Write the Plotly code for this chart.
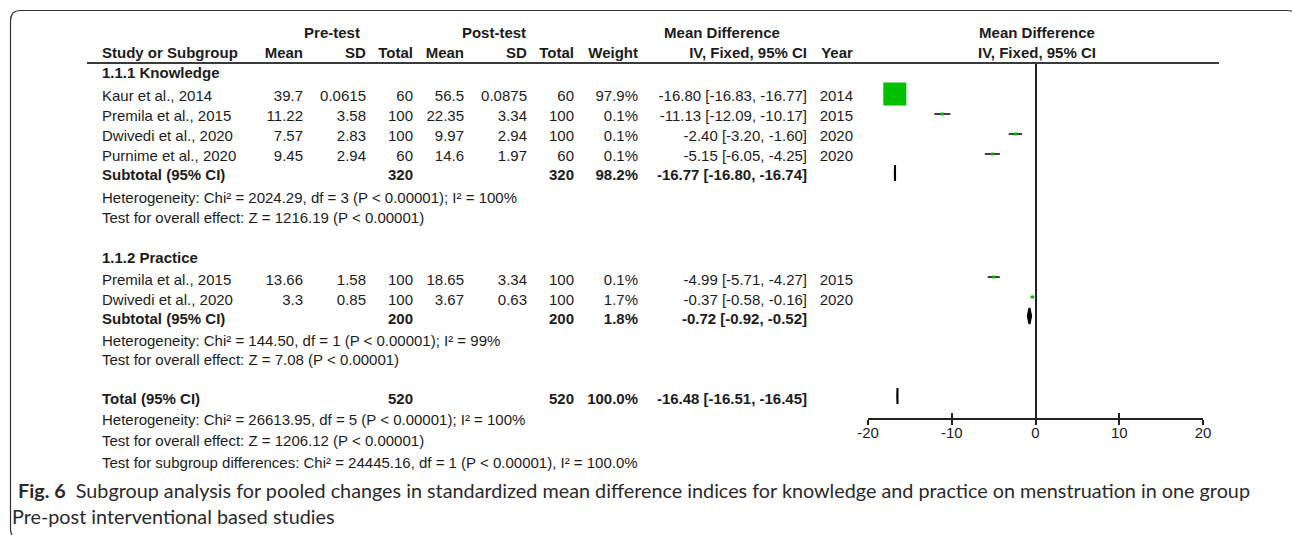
import plotly.graph_objects as go

W, H = 1292, 535

# ---------------- data ----------------
# 1.1.1 Knowledge
know_study = ["Kaur et al., 2014", "Premila et al., 2015", "Dwivedi et al., 2020", "Purnime et al., 2020"]
know_pre_mean = [39.7, 11.22, 7.57, 9.45]
know_pre_sd = [0.0615, 3.58, 2.83, 2.94]
know_pre_n = [60, 100, 100, 60]
know_post_mean = [56.5, 22.35, 9.97, 14.6]
know_post_sd = [0.0875, 3.34, 2.94, 1.97]
know_post_n = [60, 100, 100, 60]
know_weight = [97.9, 0.1, 0.1, 0.1]
know_md = [-16.80, -11.13, -2.40, -5.15]
know_lo = [-16.83, -12.09, -3.20, -6.05]
know_hi = [-16.77, -10.17, -1.60, -4.25]
know_year = [2014, 2015, 2020, 2020]
know_sub = dict(n_pre=320, n_post=320, weight=98.2, md=-16.77, lo=-16.80, hi=-16.74)
know_het = "Heterogeneity: Chi² = 2024.29, df = 3 (P < 0.00001); I² = 100%"
know_eff = "Test for overall effect: Z = 1216.19 (P < 0.00001)"

# 1.1.2 Practice
prac_study = ["Premila et al., 2015", "Dwivedi et al., 2020"]
prac_pre_mean = [13.66, 3.3]
prac_pre_sd = [1.58, 0.85]
prac_pre_n = [100, 100]
prac_post_mean = [18.65, 3.67]
prac_post_sd = [3.34, 0.63]
prac_post_n = [100, 100]
prac_weight = [0.1, 1.7]
prac_md = [-4.99, -0.37]
prac_lo = [-5.71, -0.58]
prac_hi = [-4.27, -0.16]
prac_year = [2015, 2020]
prac_sub = dict(n_pre=200, n_post=200, weight=1.8, md=-0.72, lo=-0.92, hi=-0.52)
prac_het = "Heterogeneity: Chi² = 144.50, df = 1 (P < 0.00001); I² = 99%"
prac_eff = "Test for overall effect: Z = 7.08 (P < 0.00001)"

# Overall
total = dict(n_pre=520, n_post=520, weight=100.0, md=-16.48, lo=-16.51, hi=-16.45)
total_het = "Heterogeneity: Chi² = 26613.95, df = 5 (P < 0.00001); I² = 100%"
total_eff = "Test for overall effect: Z = 1206.12 (P < 0.00001)"
total_sub = "Test for subgroup differences: Chi² = 24445.16, df = 1 (P < 0.00001), I² = 100.0%"

axis_ticks = [-20, -10, 0, 10, 20]

caption_bold = "Fig. 6"
caption_line1 = ("Subgroup analysis for pooled changes in standardized mean difference indices "
                 "for knowledge and practice on menstruation in one group")
caption_line2 = "Pre-post interventional based studies"

# ---------------- layout helpers ----------------
TXT = "#1c1c1c"
FONT = "Liberation Sans, Arial, sans-serif"
FS = 15

# right edges of table columns (px)
COL = dict(pre_mean=303, pre_sd=366, pre_n=413, post_mean=464, post_sd=527,
           post_n=574, weight=638, ci=807, year=853)
STUDY_X = 102

annotations = []


def px(x):
    return x / W


def py(y):
    return 1 - y / H


def text(x, y, s, anchor="right", bold=False, size=FS, color=TXT, family=FONT, box=None):
    if bold:
        s = "<b>" + s + "</b>"
    if box is None:
        box = 700 if anchor == "left" else 260
    annotations.append(dict(x=px(x), y=py(y), xref="paper", yref="paper", text=s,
                            xanchor=anchor, yanchor="middle", align=anchor, width=box,
                            showarrow=False, borderpad=0, borderwidth=0,
                            font=dict(family=family, size=size, color=color)))


def ci_str(md, lo, hi):
    return f"{md:.2f} [{lo:.2f}, {hi:.2f}]"


# headers
text(332, 33, "Pre-test", "center", True)
text(494, 33, "Post-test", "center", True)
text(722, 33, "Mean Difference", "center", True)
text(1037, 33, "Mean Difference", "center", True)
text(STUDY_X, 53, "Study or Subgroup", "left", True, box=300)
for key, lab in [("pre_mean", "Mean"), ("pre_sd", "SD"), ("pre_n", "Total"),
                 ("post_mean", "Mean"), ("post_sd", "SD"), ("post_n", "Total"),
                 ("weight", "Weight"), ("ci", "IV, Fixed, 95% CI"), ("year", "Year")]:
    text(COL[key], 53, lab, "right", True)
text(1037, 53, "IV, Fixed, 95% CI", "center", True)

# marker rows collected for the forest plot
study_rows = []   # (md, lo, hi, weight, y)
diamond_rows = []  # (md, lo, hi, y)


def study_block(names, pm, psd, pn, qm, qsd, qn, wt, md, lo, hi, yr, ys):
    for i, y in enumerate(ys):
        text(STUDY_X, y, names[i], "left", box=300)
        text(COL["pre_mean"], y, str(pm[i]))
        text(COL["pre_sd"], y, str(psd[i]))
        text(COL["pre_n"], y, str(pn[i]))
        text(COL["post_mean"], y, str(qm[i]))
        text(COL["post_sd"], y, str(qsd[i]))
        text(COL["post_n"], y, str(qn[i]))
        text(COL["weight"], y, f"{wt[i]:.1f}%")
        text(COL["ci"], y, ci_str(md[i], lo[i], hi[i]))
        text(COL["year"], y, str(yr[i]))
        study_rows.append((md[i], lo[i], hi[i], wt[i], y - 2))


def summary_row(label, s, y):
    text(STUDY_X, y, label, "left", True, box=300)
    text(COL["pre_n"], y, str(s["n_pre"]), bold=True)
    text(COL["post_n"], y, str(s["n_post"]), bold=True)
    text(COL["weight"], y, f"{s['weight']:.1f}%", bold=True)
    text(COL["ci"], y, ci_str(s["md"], s["lo"], s["hi"]), bold=True)
    diamond_rows.append((s["md"], s["lo"], s["hi"], y - 2))


text(STUDY_X, 73, "1.1.1 Knowledge", "left", True, box=300)
study_block(know_study, know_pre_mean, know_pre_sd, know_pre_n, know_post_mean, know_post_sd,
            know_post_n, know_weight, know_md, know_lo, know_hi, know_year, [96, 116, 136, 156])
summary_row("Subtotal (95% CI)", know_sub, 175)
text(STUDY_X, 197, know_het, "left")
text(STUDY_X, 217, know_eff, "left")

text(STUDY_X, 257, "1.1.2 Practice", "left", True, box=300)
study_block(prac_study, prac_pre_mean, prac_pre_sd, prac_pre_n, prac_post_mean, prac_post_sd,
            prac_post_n, prac_weight, prac_md, prac_lo, prac_hi, prac_year, [279, 299])
summary_row("Subtotal (95% CI)", prac_sub, 318)
text(STUDY_X, 340, prac_het, "left")
text(STUDY_X, 359, prac_eff, "left")

summary_row("Total (95% CI)", total, 398)
text(STUDY_X, 419, total_het, "left")
text(STUDY_X, 440, total_eff, "left")
text(STUDY_X, 462, total_sub, "left")

# caption
CAP_FONT = "Lato, Roboto, sans-serif"
CAP_COLOR = "#2a2a2a"
text(18, 490, f"<b>{caption_bold}</b>  {caption_line1}", "left", size=19.8,
     color=CAP_COLOR, family=CAP_FONT, box=1272)
text(12, 516, caption_line2, "left", size=19.8, color=CAP_COLOR, family=CAP_FONT, box=800)

# ---------------- forest plot traces ----------------
fig = go.Figure()

ci_x, ci_y = [], []
for md, lo, hi, w, y in study_rows:
    ci_x += [lo, hi, None]
    ci_y += [y, y, None]
fig.add_trace(go.Scatter(x=ci_x, y=ci_y, mode="lines", line=dict(color="#111", width=1.6),
                         hoverinfo="skip", showlegend=False))

sizes = [max(23 * (w / 97.9) ** 0.5, 3) for _, _, _, w, _ in study_rows]
fig.add_trace(go.Scatter(x=[r[0] for r in study_rows], y=[r[4] for r in study_rows],
                         mode="markers",
                         marker=dict(symbol="square", size=sizes, color="#00c000", opacity=1,
                                     line=dict(width=0)),
                         hoverinfo="skip", showlegend=False))

HALF_H = 8
for md, lo, hi, y in diamond_rows:
    fig.add_trace(go.Scatter(x=[lo, md, hi, md, lo], y=[y, y - HALF_H, y, y + HALF_H, y],
                             mode="lines", fill="toself", fillcolor="#000",
                             line=dict(color="#000", width=2),
                             hoverinfo="skip", showlegend=False))

# companion axis that draws the upward half of each tick
fig.add_trace(go.Scatter(x=[0], y=[200], xaxis="x2", mode="markers",
                         marker=dict(opacity=0), hoverinfo="skip", showlegend=False))

# ---------------- frame and rule shapes ----------------
L, T, R, B, RAD = 10.5, 10.5, 1297, 539, 10


def P(x, y):
    return f"{px(x):.5f},{py(y):.5f}"


frame_path = (f"M {P(L + RAD, B)} Q {P(L, B)} {P(L, B - RAD)} "
              f"L {P(L, T + RAD)} Q {P(L, T)} {P(L + RAD, T)} "
              f"L {P(R - RAD, T)} Q {P(R, T)} {P(R, T + RAD)} L {P(R, B)}")
shapes = [
    dict(type="path", path=frame_path, xref="paper", yref="paper",
         line=dict(color="#333333", width=1.2)),
    dict(type="line", xref="paper", yref="paper", x0=px(87), x1=px(1219), y0=py(63), y1=py(63),
         line=dict(color="#3a3a3a", width=2)),
]

fig.update_layout(
    width=W, height=H, autosize=False,
    margin=dict(l=0, r=0, t=0, b=0, pad=0, autoexpand=False),
    paper_bgcolor="white", plot_bgcolor="rgba(0,0,0,0)",
    font=dict(family=FONT, size=FS, color=TXT),
    showlegend=False,
    annotations=annotations,
    shapes=shapes,
    xaxis=dict(domain=[px(868), px(1203)], range=[-20, 20], showgrid=False,
               zeroline=True, zerolinecolor="#222", zerolinewidth=1.5,
               showline=True, linecolor="#222", linewidth=1.5,
               ticks="outside", ticklen=5, tickwidth=1.5, tickcolor="#222",
               tickvals=axis_ticks, ticktext=[str(t) for t in axis_ticks],
               ticklabelstandoff=-5, automargin=False,
               tickfont=dict(family=FONT, size=FS, color=TXT), anchor="y", fixedrange=True),
    xaxis2=dict(overlaying="x", matches="x", anchor="y", side="bottom", showgrid=False,
                zeroline=False, showline=False, ticks="inside", ticklen=5, tickwidth=1.5,
                tickcolor="#222", tickvals=axis_ticks, showticklabels=False, automargin=False),
    yaxis=dict(domain=[py(418), py(63)], range=[418, 63], visible=False, showgrid=False,
               zeroline=False, fixedrange=True, automargin=False),
)

fig.write_html("out.html", config={"responsive": False})
